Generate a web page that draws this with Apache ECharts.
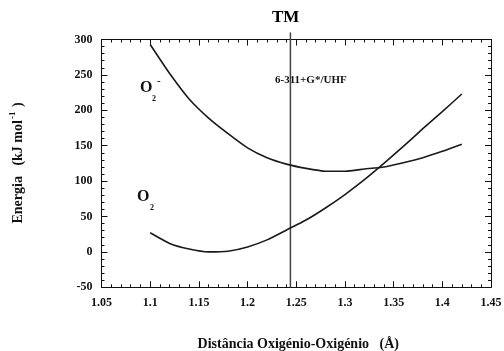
<!DOCTYPE html>
<html>
<head>
<meta charset="utf-8">
<script src="https://cdn.jsdelivr.net/npm/echarts@6/dist/echarts.min.js"></script>
<style>
  html, body { margin: 0; padding: 0; background: #fff; }
  #chart { width: 504px; height: 351px; }
</style>
</head>
<body>
<div id="chart"></div>
<script>
// O–O distance (Å) sampled every 0.02 Å
const distances = [1.10, 1.12, 1.14, 1.16, 1.18, 1.20, 1.22, 1.24, 1.26, 1.28, 1.30, 1.32, 1.34, 1.36, 1.38, 1.40, 1.42];
// Energy of the superoxide anion O2- (kJ/mol)
const energyO2minus = [293, 252, 216, 189, 167, 147, 133, 124, 118, 114, 114, 117, 120, 126, 133, 142, 152];
// Energy of neutral O2 (kJ/mol)
const energyO2 = [27, 12, 4, 0, 1, 7, 17, 31, 45, 62, 81, 102, 125, 149, 174, 198, 223];
// Transition-point distance marked by the vertical line
const tmDistance = 1.244;
const tmLineEnds = [-50, 310];

const FONT = '"Liberation Serif", "DejaVu Serif", serif';
const INK = '#111';

const chart = echarts.init(document.getElementById('chart'), null, { renderer: 'canvas' });

function xAxisDef(position, showLabels) {
  return {
    type: 'value', position: position, min: 1.05, max: 1.45, interval: 0.05,
    axisLine: { show: true, onZero: false, lineStyle: { color: INK, width: 1 } },
    axisTick: { show: true, inside: true, length: 6, lineStyle: { color: INK, width: 1 } },
    minorTick: { show: true, splitNumber: 5, length: 3, lineStyle: { color: INK, width: 1 } },
    splitLine: { show: false },
    axisLabel: { show: showLabels, margin: 10, color: INK, fontFamily: FONT, fontWeight: 'bold', fontSize: 12 }
  };
}
function yAxisDef(position, showLabels) {
  return {
    type: 'value', position: position, min: -50, max: 300, interval: 50,
    axisLine: { show: true, onZero: false, lineStyle: { color: INK, width: 1 } },
    axisTick: { show: true, inside: true, length: 6, lineStyle: { color: INK, width: 1 } },
    minorTick: { show: true, splitNumber: 5, length: 3, lineStyle: { color: INK, width: 1 } },
    splitLine: { show: false },
    axisLabel: { show: showLabels, margin: 9, color: INK, fontFamily: FONT, fontWeight: 'bold', fontSize: 12 }
  };
}

const xBottom = xAxisDef('bottom', true);
xBottom.name = 'Distância Oxigénio-Oxigénio   (Å)';
xBottom.nameLocation = 'middle';
xBottom.nameGap = 50;
xBottom.nameTextStyle = { color: INK, fontFamily: FONT, fontWeight: 'bold', fontSize: 14, padding: [0, 0, 0, 4] };

const curveStyle = { color: '#1a1a1a', width: 1.6 };

chart.setOption({
  animation: false,
  backgroundColor: '#fff',
  grid: { left: 101.5, right: 13, top: 39.5, bottom: 63.7, containLabel: false, outerBoundsMode: 'none' },
  xAxis: [xBottom, xAxisDef('top', false)],
  yAxis: [yAxisDef('left', true), yAxisDef('right', false)],
  series: [
    {
      name: 'O2-', type: 'line', xAxisIndex: 0, yAxisIndex: 0,
      data: distances.map((d, i) => [d, energyO2minus[i]]),
      showSymbol: false, smooth: 0.2, lineStyle: curveStyle, itemStyle: { color: '#1a1a1a' }
    },
    {
      name: 'O2', type: 'line', xAxisIndex: 0, yAxisIndex: 0,
      data: distances.map((d, i) => [d, energyO2[i]]),
      showSymbol: false, smooth: 0.2, lineStyle: curveStyle, itemStyle: { color: '#1a1a1a' }
    },
    {
      name: 'TM', type: 'line', xAxisIndex: 0, yAxisIndex: 0, clip: false,
      data: tmLineEnds.map(e => [tmDistance, e]),
      showSymbol: false, lineStyle: { color: '#444', width: 1.5 }, z: 1
    }
  ],
  graphic: [
    { type: 'text', left: 272, top: 9,
      style: { text: 'TM', fill: '#000', font: 'bold 17px ' + FONT } },
    { type: 'text', left: 275, top: 75,
      style: { text: '6-311+G*/UHF', fill: INK, font: 'bold 11px ' + FONT } },
    // O2- label
    { type: 'text', left: 140, top: 80,
      style: { text: 'O', fill: INK, font: 'bold 16px ' + FONT } },
    { type: 'text', left: 152, top: 95,
      style: { text: '2', fill: INK, font: 'bold 8px ' + FONT } },
    { type: 'text', left: 157, top: 76,
      style: { text: '-', fill: INK, font: 'bold 11px ' + FONT } },
    // O2 label
    { type: 'text', left: 137, top: 189,
      style: { text: 'O', fill: INK, font: 'bold 16px ' + FONT } },
    { type: 'text', left: 150, top: 204,
      style: { text: '2', fill: INK, font: 'bold 8px ' + FONT } },
    // vertical axis title
    { type: 'text', x: 18, y: 163, rotation: Math.PI / 2,
      style: {
        text: '{a|Energia   (kJ mol}{s|-1}{a| )}',
        align: 'center', verticalAlign: 'middle',
        rich: {
          a: { fill: INK, fontFamily: FONT, fontWeight: 'bold', fontSize: 14, lineHeight: 17 },
          s: { fill: INK, fontFamily: FONT, fontWeight: 'bold', fontSize: 9, padding: [0, 1, 10, 1] }
        }
      } }
  ]
});
</script>
</body>
</html>
